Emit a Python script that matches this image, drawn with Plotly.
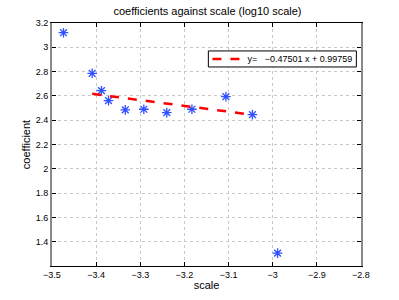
import plotly.graph_objects as go

scale = [-3.474, -3.409, -3.388, -3.372, -3.334, -3.292, -3.240, -3.183, -3.106, -3.046, -2.989]
coef = [3.12, 2.786, 2.643, 2.561, 2.485, 2.49, 2.462, 2.49, 2.594, 2.446, 1.306]
slope = -0.47501
intercept = 0.99759
fit_x = [scale[1], scale[9]]
fit_y = [slope * x + intercept for x in fit_x]

xticks = [-3.5, -3.4, -3.3, -3.2, -3.1, -3.0, -2.9, -2.8]
xlabels = ["\u22123.5", "\u22123.4", "\u22123.3", "\u22123.2", "\u22123.1", "\u22123", "\u22122.9", "\u22122.8"]
yticks = [1.4, 1.6, 1.8, 2.0, 2.2, 2.4, 2.6, 2.8, 3.0, 3.2]
ylabels = ["1.4", "1.6", "1.8", "2", "2.2", "2.4", "2.6", "2.8", "3", "3.2"]

fig = go.Figure()
fig.add_trace(go.Scatter(x=scale, y=coef, mode="markers", showlegend=False,
                         marker=dict(symbol="asterisk-open", size=8, color="#3050ff",
                                     line=dict(color="#3050ff", width=1.3))))
fig.add_trace(go.Scatter(x=fit_x, y=fit_y, mode="lines", name="y=   \u22120.47501 x + 0.99759",
                         line=dict(color="#ff0000", width=2.5, dash="dash")))

axis_common = dict(mirror="ticks", automargin=False,
                   ticks="inside", ticklen=4, tickcolor="black",
                   showgrid=True, gridcolor="#c8c8c8", griddash="dot", gridwidth=1,
                   zeroline=False, tickfont=dict(size=9, color="black"))

# legend frame (styling box behind the legend entry)
fig.add_shape(type="rect", xref="paper", yref="paper", x0=0.506, x1=0.985, y0=0.819, y1=0.885,
              line=dict(color="black", width=1), fillcolor="white", layer="above")

fig.update_layout(
    width=399, height=300,
    margin=dict(l=52, r=38, t=23, b=34),
    paper_bgcolor="white", plot_bgcolor="white",
    font=dict(family="Liberation Sans, Arial, sans-serif", color="black"),
    title=dict(text="coefficients against scale (log10 scale)", x=0.52, xanchor="center",
               y=0.963, yanchor="middle", font=dict(size=11)),
    xaxis=dict(range=[-3.5, -2.8], tickvals=xticks, ticktext=xlabels,
               showline=True, linecolor="black", linewidth=1,
               title=dict(text="scale", font=dict(size=11), standoff=2), **axis_common),
    yaxis=dict(range=[1.2, 3.2], tickvals=yticks, ticktext=ylabels,
               showline=True, linecolor="#8a8a8a", linewidth=2,
               title=dict(text="coefficient", font=dict(size=11), standoff=3), **axis_common),
    legend=dict(x=0.503, y=0.852, xanchor="left", yanchor="middle",
                bgcolor="rgba(0,0,0,0)", borderwidth=0,
                font=dict(size=9), itemwidth=30, tracegroupgap=0),
)

fig.write_html("out.html", config={"displayModeBar": False},
               post_script="document.body.style.margin='0';")
